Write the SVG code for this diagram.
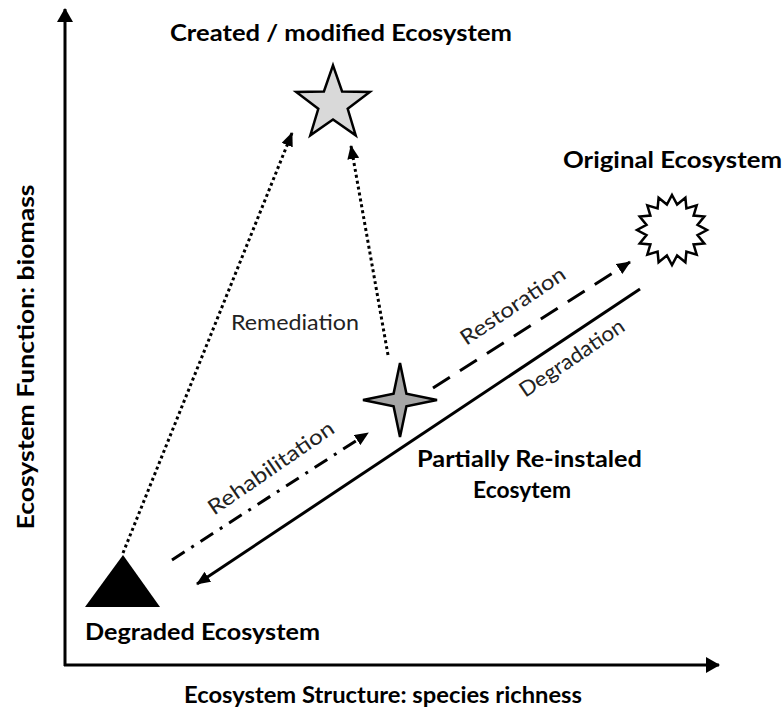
<svg xmlns="http://www.w3.org/2000/svg" width="784" height="708" viewBox="0 0 784 708">
<style>
.b{font-family:Lato,"Open Sans","Liberation Sans",sans-serif;font-weight:bold;font-size:22px;fill:#000}
.n{font-family:Lato,"Open Sans","Liberation Sans",sans-serif;font-size:21px;fill:#222}
.ln{fill:none;stroke:#000;stroke-width:3}
.dot{stroke-dasharray:3 3}
.dash{stroke-dasharray:20 12}
.dd{stroke-dasharray:15 8 3 8}
.ax{fill:none;stroke:#000;stroke-width:3}
</style>
<defs>
<marker id="ah" markerUnits="userSpaceOnUse" markerWidth="14" markerHeight="12" refX="13" refY="6" orient="auto" viewBox="0 0 14 12">
<path d="M0,0 L14,6 L0,12 z" fill="#000"/>
</marker>
<marker id="axh" markerUnits="userSpaceOnUse" markerWidth="14" markerHeight="16" refX="13" refY="8" orient="auto" viewBox="0 0 14 16">
<path d="M0,0 L14,8 L0,16 z" fill="#000"/>
</marker>
</defs>
<rect width="784" height="708" fill="#fff"/>
<g id="axes">
<path class="ax" d="M65,666 L65,9" marker-end="url(#axh)"/>
<path class="ax" d="M64,665 L719,665" marker-end="url(#axh)"/>
</g>
<g id="connectors">
<path class="ln dot" d="M123,553 L292,133" marker-end="url(#ah)"/>
<path class="ln dot" d="M388,355 L351,146" marker-end="url(#ah)"/>
<path class="ln dd" d="M172,560 L368,433" marker-end="url(#ah)"/>
<path class="ln dash" d="M433,388 L630,262" marker-end="url(#ah)"/>
<path class="ln" d="M640,289 L197,584" marker-end="url(#ah)"/>
</g>
<g id="created">
<polygon points="333,65.3 342.1,91.5 369.8,92 347.7,108.8 355.7,135.3 333,119.5 310.3,135.3 318.3,108.8 296.2,92 323.9,91.5" fill="#d9d9d9" stroke="#000" stroke-width="2.5" stroke-linejoin="miter"/>
<text class="b" x="170" y="41" textLength="342" lengthAdjust="spacingAndGlyphs">Created / modified Ecosystem</text>
</g>
<g id="original">
<polygon transform="translate(672,230)" points="0,-35 5.1,-25.5 13.4,-32.3 14.4,-21.6 24.7,-24.7 21.6,-14.4 32.3,-13.4 25.5,-5.1 35,0 25.5,5.1 32.3,13.4 21.6,14.4 24.7,24.7 14.4,21.6 13.4,32.3 5.1,25.5 0,35 -5.1,25.5 -13.4,32.3 -14.4,21.6 -24.7,24.7 -21.6,14.4 -32.3,13.4 -25.5,5.1 -35,0 -25.5,-5.1 -32.3,-13.4 -21.6,-14.4 -24.7,-24.7 -14.4,-21.6 -13.4,-32.3 -5.1,-25.5" fill="#fff" stroke="#000" stroke-width="2.5"/>
<text class="b" x="563" y="168" textLength="219" lengthAdjust="spacingAndGlyphs">Original Ecosystem</text>
</g>
<g id="partial">
<polygon points="400,363 406.4,393.6 437,400 406.4,406.4 400,437 393.6,406.4 363,400 393.6,393.6" fill="#a6a6a6" stroke="#000" stroke-width="2.5"/>
<text class="b" x="417" y="467" textLength="225" lengthAdjust="spacingAndGlyphs">Partially Re-instaled</text>
<text class="b" x="522" y="498" text-anchor="middle" textLength="98" lengthAdjust="spacingAndGlyphs">Ecosytem</text>
</g>
<g id="degraded">
<polygon points="123,555 160,607 85,607" fill="#000"/>
<text class="b" x="85" y="640" textLength="235" lengthAdjust="spacingAndGlyphs">Degraded Ecosystem</text>
</g>
<g id="labels">
<text class="n" x="231" y="330" textLength="128" lengthAdjust="spacingAndGlyphs">Remediation</text>
<text class="n" transform="translate(513,306) rotate(-34)" x="0" y="7" text-anchor="middle" textLength="122" lengthAdjust="spacingAndGlyphs">Restoration</text>
<text class="n" transform="translate(572,358) rotate(-34)" x="0" y="7" text-anchor="middle" textLength="122" lengthAdjust="spacingAndGlyphs">Degradation</text>
<text class="n" transform="translate(271,468) rotate(-34.5)" x="0" y="7" text-anchor="middle" textLength="148" lengthAdjust="spacingAndGlyphs">Rehabilitation</text>
<text class="b" x="184" y="703" textLength="398" lengthAdjust="spacingAndGlyphs">Ecosystem Structure: species richness</text>
<text class="b" transform="translate(34,357) rotate(-90)" x="0" y="0" text-anchor="middle" textLength="345" lengthAdjust="spacingAndGlyphs">Ecosystem Function:  biomass</text>
</g>
</svg>
